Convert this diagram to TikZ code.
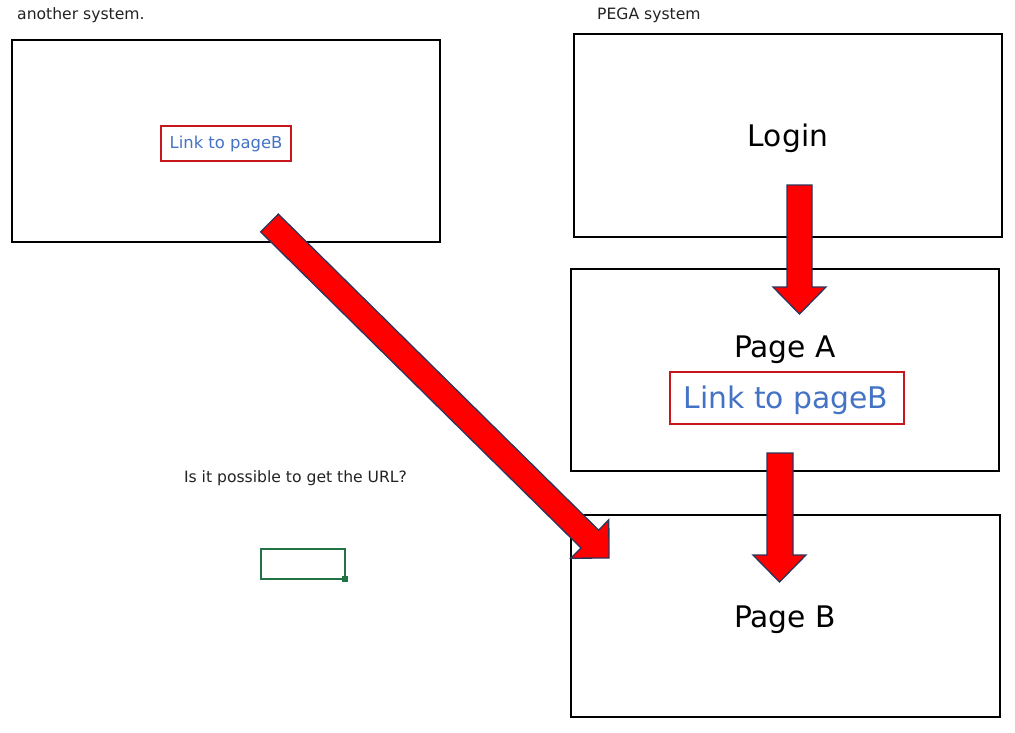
\documentclass[tikz,border=0pt]{standalone}
\usepackage{fontspec}
\setmainfont{DejaVu Sans}
\definecolor{linkblue}{HTML}{4472C4}
\definecolor{boxred}{HTML}{C8161D}
\definecolor{arrowred}{HTML}{FF0000}
\definecolor{arrowedge}{HTML}{2E3459}
\definecolor{xlgreen}{HTML}{217346}
\definecolor{txt}{HTML}{222222}
\begin{document}
\begin{tikzpicture}[x=1pt,y=-1pt,
  frame/.style={draw=black,line width=1.9pt},
  linkbox/.style={draw=boxred,line width=2.6pt,inner sep=0pt},
  blockarrow/.style={fill=arrowred,draw=arrowedge,line width=1.3pt,line join=miter},
  small/.style={font=\fontsize{15.6}{17}\selectfont,text=txt,inner sep=0pt},
  big/.style={font=\fontsize{29.7}{34}\selectfont,text=black,inner sep=0pt}]
\useasboundingbox (0,0) rectangle (1015,732);
% frames
\draw[frame] (12,40) rectangle (440,242);
\draw[frame] (574,34) rectangle (1002,237);
\draw[frame] (571,269) rectangle (999,471);
\draw[frame] (571,515) rectangle (1000,717);
% labels
\node[small,anchor=west] (lblother) at (17,15) {another system.};
\node[small,anchor=west] (lblpega) at (597,15) {PEGA system};
\node[small] (question) at (295.5,478) {Is it possible to get the URL?};
% small link box
\draw[linkbox] (161,126) rectangle (291,161);
\node[font=\fontsize{16.4}{18}\selectfont,text=linkblue,inner sep=0pt] (linksmall) at (226,144) {Link to pageB};
% big texts
\node[big] (login) at (788,138.5) {Login};
\node[big] (pagea) at (785,349.5) {Page A};
\node[big] (pageb) at (785,619.5) {Page B};
\draw[linkbox] (670,372) rectangle (904,424);
\node[font=\fontsize{29.8}{34}\selectfont,text=linkblue,inner sep=0pt] (linkbig) at (786,400) {Link to pageB};
% green cell
\draw[xlgreen,line width=1.8pt] (261,549) rectangle (345,579);
\fill[xlgreen] (341.5,575.5) rectangle (347.5,581.5);
% arrows
\draw[blockarrow] (787,185) -- (812,185) -- (812,287) -- (826,287) -- (799.5,314) -- (773,287) -- (787,287) -- cycle;
\draw[blockarrow] (767,453) -- (793,453) -- (793,555) -- (806,555) -- (779.5,582) -- (753,555) -- (767,555) -- cycle;
\draw[blockarrow] (278.3,214.1) -- (598.6,530.1) -- (608.8,519.8) -- (609,558) -- (570.8,558.2) -- (581.0,547.9) -- (260.7,231.9) -- cycle;
\end{tikzpicture}
\end{document}
